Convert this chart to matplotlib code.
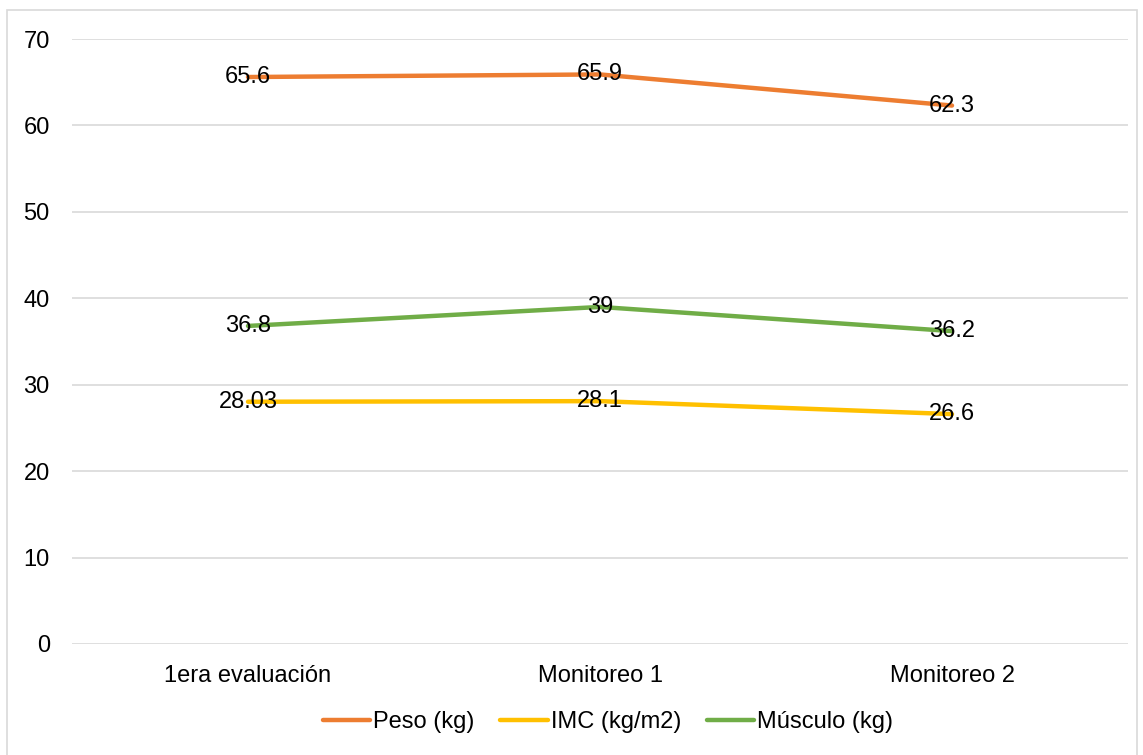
import matplotlib.pyplot as plt
from matplotlib.patches import Rectangle

# series per evaluation
categories = ['1era evaluación', 'Monitoreo 1', 'Monitoreo 2']
peso = [65.6, 65.9, 62.3]
imc = [28.03, 28.1, 26.6]
musculo = [36.8, 39, 36.2]

peso_labels = ['65.6', '65.9', '62.3']
imc_labels = ['28.03', '28.1', '26.6']
musculo_labels = ['36.8', '39', '36.2']

plt.rcParams['font.family'] = ['Liberation Sans', 'DejaVu Sans']
FS = 17

fig = plt.figure(figsize=(11.43, 7.55), dpi=100)
ax = fig.add_axes([72 / 1143, 1 - 644 / 755, 1056 / 1143, 605 / 755])

# chart border
fig.patches.append(Rectangle((7 / 1143, -0.01), 1130 / 1143, 1 - 10 / 755 + 0.01,
                             transform=fig.transFigure, fill=False,
                             edgecolor='#D9D9D9', lw=1.2))

x = range(len(categories))
series = [
    ('Peso (kg)', peso, peso_labels, '#ED7D31'),
    ('IMC (kg/m2)', imc, imc_labels, '#FFC000'),
    ('Músculo (kg)', musculo, musculo_labels, '#70AD47'),
]
for name, vals, labels, color in series:
    ax.plot(x, vals, color=color, lw=3.2, solid_capstyle='round', label=name, zorder=3)
    for xi, v, s in zip(x, vals, labels):
        ax.text(xi, v, s, ha='center', va='center', fontsize=FS, color='black', zorder=4)

ax.set_xlim(-0.5, 2.5)
ax.set_ylim(0, 70)
ax.set_yticks(range(0, 71, 10))
ax.set_xticks(list(x))
ax.set_xticklabels(categories)
ax.grid(axis='y', color='#D9D9D9', lw=1.2)
ax.set_axisbelow(True)
for sp in ax.spines.values():
    sp.set_visible(False)
ax.tick_params(length=0, labelsize=FS, colors='#000000')
ax.tick_params(axis='y', pad=16)
ax.tick_params(axis='x', pad=15)

leg = fig.legend(loc='center', bbox_to_anchor=(608 / 1143, 1 - 722 / 755), ncol=3,
                 frameon=False, fontsize=FS, handlelength=2.0, handletextpad=0.12,
                 columnspacing=1.1)

fig.savefig('out.png', dpi=100)
